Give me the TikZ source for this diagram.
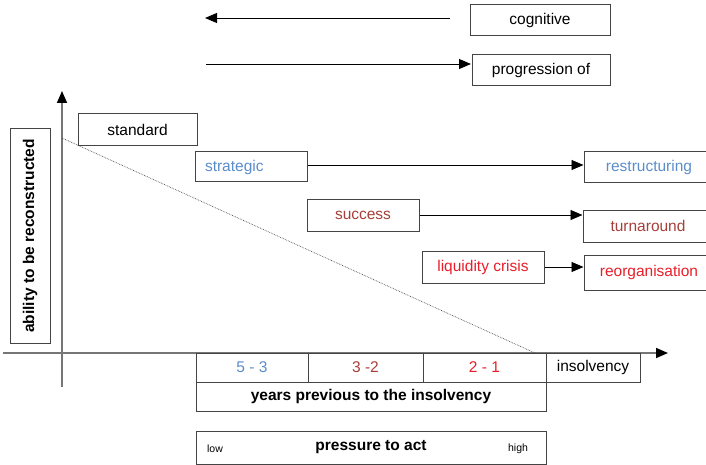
\documentclass[tikz,border=0pt]{standalone}
\usepackage{fontspec}
\setmainfont{Liberation Sans}
\usetikzlibrary{arrows.meta}
\definecolor{cblue}{HTML}{5B8DCB}
\definecolor{cbrown}{HTML}{A63F3A}
\definecolor{cred}{HTML}{E81E2A}
\definecolor{cline}{HTML}{444444}
\definecolor{caxis}{HTML}{767676}
\begin{document}
\begin{tikzpicture}[x=1pt,y=-1pt,
  box/.style={draw=cline,line width=1pt,inner sep=0pt,font=\fontsize{15.5}{18}\selectfont},
  arr/.style={draw=black,line width=0.9pt,-{Triangle[length=12pt,width=10pt]}},
  axis/.style={draw=caxis,line width=1.6pt},
]
\clip (0,0) rectangle (706,465);
% top legend
\node[box,minimum width=140pt,minimum height=31pt] (cog) at (540,20.5) {cognitive};
\node[box,minimum width=138pt,minimum height=31pt] (prog) at (541,70.5) {progression of};
\coordinate (t0) at (450,18);
\coordinate (t1) at (205,18);
\coordinate (u0) at (206,64);
\coordinate (u1) at (471,64);
\draw[arr] (t0) -- (t1);
\draw[arr] (u0) -- (u1);
% axes
\coordinate (yb) at (62,387);
\coordinate (yt) at (62,91);
\coordinate (xl) at (3,353);
\coordinate (xr) at (668,353);
\draw[axis,-{Triangle[length=12pt,width=10pt,color=black]}] (yb) -- (yt);
\draw[axis,-{Triangle[length=12pt,width=10pt,color=black]}] (xl) -- (xr);
% ylabel
\node[box,minimum width=214pt,minimum height=40pt,rotate=90,font=\fontsize{15.5}{18}\selectfont\bfseries] (abil) at (30,236) {ability to be reconstructed};
% dotted line
\coordinate (d0) at (62,138);
\coordinate (d1) at (535,353);
\draw[densely dotted,line width=0.7pt,black!70] (d0) -- (d1);
% boxes
\node[box,fill=white,minimum width=119pt,minimum height=32pt] (std) at (137.5,130) {standard};
\node[box,fill=white,minimum width=112pt,minimum height=30pt,text=cblue,align=left,text width=92pt,inner xsep=10pt] (strat) at (251,167) {strategic};
\node[box,minimum width=130pt,minimum height=31pt,text=cblue] (restr) at (649,167.5) {restructuring};
\node[box,fill=white,minimum width=112pt,minimum height=32pt,text=cbrown] (succ) at (363,215) {success};
\node[box,minimum width=130pt,minimum height=32pt,text=cbrown] (turn) at (648,226) {turnaround};
\node[box,fill=white,minimum width=122pt,minimum height=32pt,text=cred] (liq) at (483,267) {liquidity crisis};
\node[box,minimum width=130pt,minimum height=35pt,text=cred] (reorg) at (649,272.5) {reorganisation};
\draw[arr] (strat.east |- 0,165) -- (restr.west |- 0,165);
\draw[arr] (succ.east) -- (turn.west |- succ.east);
\draw[arr] (liq.east) -- (reorg.west |- liq.east);
% bottom table
\node[box,minimum width=112pt,minimum height=29pt,text=cblue] (y53) at (252,367.5) {5 - 3};
\node[box,minimum width=115pt,minimum height=29pt,text=cbrown] (y32) at (365.5,367.5) {3 -2};
\node[box,minimum width=123pt,minimum height=29pt,text=cred] (y21) at (484.5,367.5) {2 - 1};
\node[box,minimum width=94pt,minimum height=29pt] (ins) at (593,367.5) {insolvency};
\node[box,minimum width=350pt,minimum height=29pt,font=\fontsize{15.5}{18}\selectfont\bfseries] (years) at (371,396.5) {years previous to the insolvency};
\node[box,minimum width=350pt,minimum height=33pt,font=\fontsize{15.5}{18}\selectfont\bfseries] (press) at (371,447.5) {pressure to act};
\node[font=\fontsize{10.5}{12}\selectfont,inner sep=0pt] (low) at (215,448.5) {low};
\node[font=\fontsize{10.5}{12}\selectfont,inner sep=0pt] (high) at (518,448.5) {high};
\end{tikzpicture}
\end{document}
